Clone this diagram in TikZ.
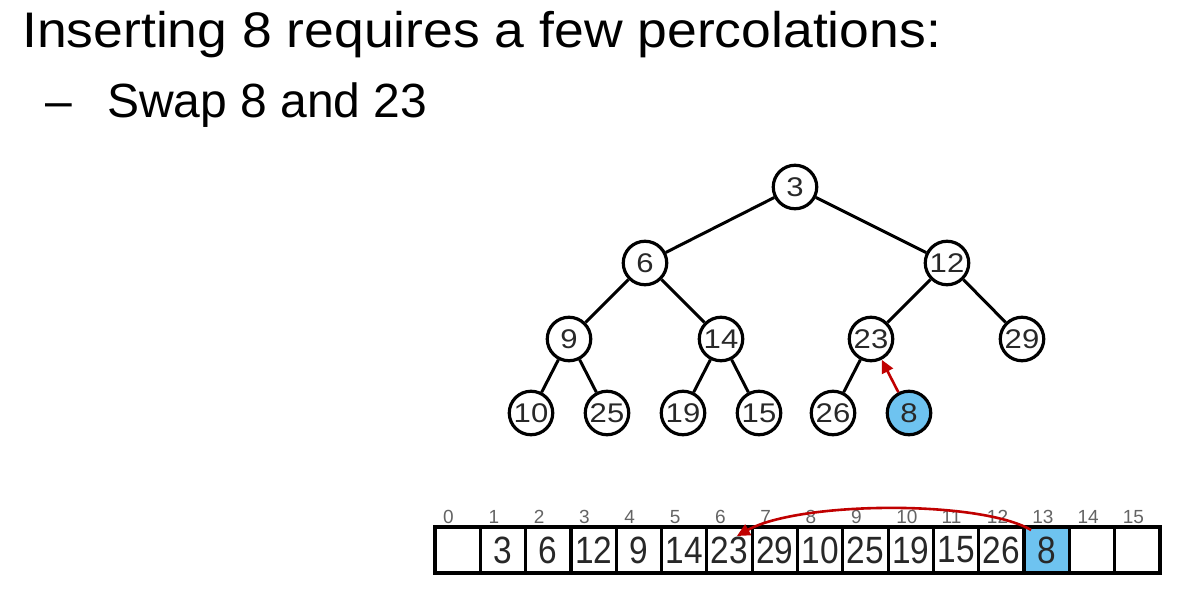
\documentclass[tikz,border=0pt]{standalone}
\usepackage{fontspec}
\usepackage{graphicx}
\setmainfont{Liberation Sans}
\usetikzlibrary{arrows.meta,calc}
\definecolor{heapblue}{RGB}{110,195,240}
\definecolor{arrowred}{RGB}{192,0,0}
\definecolor{digit}{RGB}{40,40,40}
\definecolor{idxgray}{RGB}{100,100,100}
\newcommand\tnum[1]{\scalebox{1.15}[1]{\fontsize{27}{27}\selectfont #1}}
\newcommand\anum[1]{\scalebox{0.88}[1]{#1}}
\begin{document}
\begin{tikzpicture}[x=1pt,y=-1pt,
  hnode/.style={circle,draw=black,line width=3.2pt,minimum size=43.5pt,inner sep=0pt,fill=white,text=digit},
  hedge/.style={line width=3pt,black},
  cell/.style={draw=black,line width=3.2pt,minimum width=45.3125pt,minimum height=46pt,inner sep=0pt,outer sep=0pt,anchor=north west,fill=white,text=digit,font=\fontsize{38}{38}\selectfont},
  idx/.style={anchor=base west,inner sep=0pt,text=idxgray,font=\fontsize{19}{19}\selectfont},
  redarrow/.style={arrowred,line width=2.6pt,-{Triangle[width=12pt,length=13pt]}},
  heading/.style={anchor=base west,inner sep=0pt,text=black,font=\fontsize{48}{48}\selectfont}]
\useasboundingbox (0,0) rectangle (1188,602);

% heading
\node[heading] (title) at (22,48) {\scalebox{1.07}[1]{\fontsize{50}{50}\selectfont Inserting 8 requires a few percolations:}};
\node[heading] (dash) at (45,117) {--};
\node[heading] (sub) at (107,117) {Swap 8 and 23};

% tree
\node[hnode] (n3)  at (795,187) {\tnum{3}};
\node[hnode] (n6)  at (645,263) {\tnum{6}};
\node[hnode] (n12) at (947,263) {\tnum{12}};
\node[hnode] (n9)  at (569,339) {\tnum{9}};
\node[hnode] (n14) at (721,339) {\tnum{14}};
\node[hnode] (n23) at (871,339) {\tnum{23}};
\node[hnode] (n29) at (1022,339) {\tnum{29}};
\node[hnode] (n10) at (531,413) {\tnum{10}};
\node[hnode] (n25) at (607,413) {\tnum{25}};
\node[hnode] (n19) at (683,413) {\tnum{19}};
\node[hnode] (n15) at (759,413) {\tnum{15}};
\node[hnode] (n26) at (833,413) {\tnum{26}};
\node[hnode,fill=heapblue] (n8) at (909,413) {\tnum{8}};

\draw[hedge] (n3) -- (n6);
\draw[hedge] (n3) -- (n12);
\draw[hedge] (n6) -- (n9);
\draw[hedge] (n6) -- (n14);
\draw[hedge] (n12) -- (n23);
\draw[hedge] (n12) -- (n29);
\draw[hedge] (n9) -- (n10);
\draw[hedge] (n9) -- (n25);
\draw[hedge] (n14) -- (n19);
\draw[hedge] (n14) -- (n15);
\draw[hedge] (n23) -- (n26);
\draw[redarrow] (n8) -- (n23);

% array
\node[cell] (c0) at (435,527) {};
\foreach \i/\v in {1/3,2/6,3/12,4/9,5/14,6/23,7/29,8/10,9/25,10/19,11/15,12/26}{
  \node[cell] (c\i) at ({435+\i*45.3125},527) {\anum{\v}};
}
\node[cell,fill=heapblue] (c13) at ({435+13*45.3125},527) {\anum{8}};
\node[cell] (c14) at ({435+14*45.3125},527) {};
\node[cell] (c15) at ({435+15*45.3125},527) {};
\foreach \i in {0,...,15}{
  \node[idx] (l\i) at ($(c\i.north west)+(8,-4)$) {\i};
}

\coordinate (as) at ($(c13.north west)+(7,3)$);
\coordinate (ae) at ($(c6.north west)+(30,9)$);
\draw[redarrow] (as) .. controls ($(as)+(-51,-30)$) and ($(ae)+(63,-35)$) .. (ae);
\end{tikzpicture}
\end{document}
